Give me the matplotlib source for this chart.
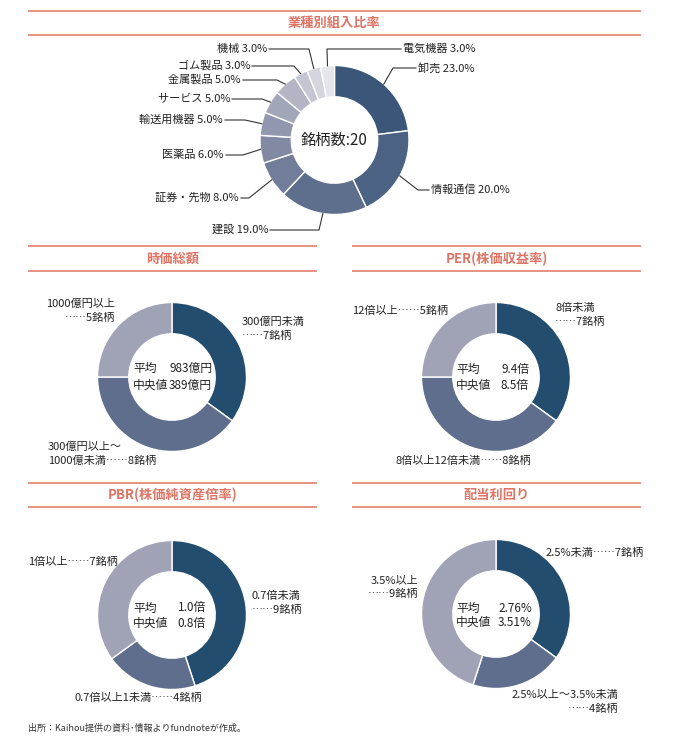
import numpy as np
import matplotlib
matplotlib.use("Agg")
import matplotlib.pyplot as plt

plt.rcParams['font.family'] = ['Noto Sans CJK JP', 'DejaVu Sans']

W, H = 673, 742

# ---------------- data ----------------
sectors = ['卸売', '情報通信', '建設', '証券・先物', '医薬品', '輸送用機器',
           'サービス', '金属製品', 'ゴム製品', '機械', '電気機器']
sector_pct = [23.0, 20.0, 19.0, 8.0, 6.0, 5.0, 5.0, 5.0, 3.0, 3.0, 3.0]
n_stocks = 20

mcap_labels = [['300億円未満', '……7銘柄'], ['300億円以上～', '1000億未満……8銘柄'], ['1000億円以上', '……5銘柄']]
mcap_counts = [7, 8, 5]
mcap_stats = ['983億円', '389億円']

per_labels = [['8倍未満', '……7銘柄'], ['8倍以上12倍未満……8銘柄'], ['12倍以上……5銘柄']]
per_counts = [7, 8, 5]
per_stats = ['9.4倍', '8.5倍']

pbr_labels = [['0.7倍未満', '……9銘柄'], ['0.7倍以上1未満……4銘柄'], ['1倍以上……7銘柄']]
pbr_counts = [9, 4, 7]
pbr_stats = ['1.0倍', '0.8倍']

div_labels = [['2.5%未満……7銘柄'], ['2.5%以上～3.5%未満', '……4銘柄'], ['3.5%以上', '……9銘柄']]
div_counts = [7, 4, 9]
div_stats = ['2.76%', '3.51%']

stat_names = ['平均', '中央値']

# ---------------- style ----------------
top_colors = ['#3A5779', '#4B6283', '#5E6E8D', '#717D99', '#8189A3', '#9197AE',
              '#A2A6B9', '#B3B5C5', '#C4C6D2', '#D4D5DF', '#E5E5EC']
three_colors = ['#234D6F', '#5F6E8C', '#A0A3B6']
accent = '#E5897B'
title_col = '#DE7565'
txt_col = '#222222'
FS = 8

fig = plt.figure(figsize=(W / 100, H / 100), dpi=100)
ax = fig.add_axes([0, 0, 1, 1])


def Y(y):
    return H - y


def text(x, y, s, **kw):
    kw.setdefault('fontsize', FS)
    kw.setdefault('color', txt_col)
    kw.setdefault('va', 'center')
    ax.text(x, Y(y), s, **kw)


def header(x0, x1, y_top, y_bot, title):
    for yy in (y_top, y_bot):
        ax.plot([x0, x1], [Y(yy), Y(yy)], color=accent, lw=1.3, solid_capstyle='butt')
    text((x0 + x1) / 2, (y_top + y_bot) / 2, title, ha='center', fontsize=9.5,
         color=title_col, fontweight='bold')


def donut(values, colors, cx, cy, R, ratio=0.42):
    wedges, _ = ax.pie(values, colors=colors, startangle=90, counterclock=False,
                       radius=R, center=(cx, Y(cy)),
                       wedgeprops=dict(width=R * ratio, edgecolor='white', linewidth=1.0))
    return wedges


# ---------------- top: sector breakdown ----------------
header(28, 641, 11, 35, '業種別組入比率')
tcx, tcy, tR = 334.5, 140, 74.5
donut(sector_pct, top_colors, tcx, tcy, tR)
text(tcx, tcy, f'銘柄数:{n_stocks}', ha='center', fontsize=11)

# leader layout: (elbow_x, elbow_y, text_x, side)
leaders = [(393, 68, 418, 'R'), (418, 190, 431, 'R'), (319, 230, 268, 'L'),
           (249, 198, 239, 'L'), (243, 155, 224, 'L'), (245, 120, 223, 'L'),
           (262, 99, 230, 'L'), (277, 80, 241, 'L'), (294, 66, 250, 'L'),
           (309, 49, 267, 'L'), (327, 49, 403, 'R')]
cum = np.cumsum([0] + sector_pct) / sum(sector_pct) * 360.0
for i, (name, pct) in enumerate(zip(sectors, sector_pct)):
    mid = np.deg2rad((cum[i] + cum[i + 1]) / 2)
    axp = tcx + tR * np.sin(mid)
    ayp = Y(tcy) + tR * np.cos(mid)
    ex, ey, tx, side = leaders[i]
    endx = tx - 2 if side == 'R' else tx + 2
    ax.plot([axp, ex, endx], [ayp, Y(ey), Y(ey)], color='#333333', lw=0.8)
    text(tx, ey, f'{name} {pct:.1f}%', ha='left' if side == 'R' else 'right')

# ---------------- small panels ----------------
panels = [
    dict(title='時価総額', x0=28, x1=317, yt=246, yb=271, cx=172, cy=377,
         counts=mcap_counts, labels=mcap_labels, stats=mcap_stats,
         lpos=[(242, 322, 'left'), (48, 447, 'left'), (115, 304, 'right')],
         sx0=133, sx1=212, sy=(368, 385)),
    dict(title='PER(株価収益率)', x0=352, x1=641, yt=246, yb=271, cx=496, cy=377,
         counts=per_counts, labels=per_labels, stats=per_stats,
         lpos=[(555, 308, 'left'), (463, 461, 'center'), (352, 311, 'left')],
         sx0=456, sx1=529, sy=(369, 385)),
    dict(title='PBR(株価純資産倍率)', x0=28, x1=317, yt=483, yb=507, cx=172, cy=615,
         counts=pbr_counts, labels=pbr_labels, stats=pbr_stats,
         lpos=[(252, 596, 'left'), (138, 698, 'center'), (28, 562, 'left')],
         sx0=133, sx1=206, sy=(608, 623)),
    dict(title='配当利回り', x0=352, x1=641, yt=483, yb=507, cx=496, cy=614,
         counts=div_counts, labels=div_labels, stats=div_stats,
         lpos=[(546, 553, 'left'), (618, 695, 'right'), (418, 580, 'right')],
         sx0=456, sx1=532, sy=(608, 622)),
]

for p in panels:
    header(p['x0'], p['x1'], p['yt'], p['yb'], p['title'])
    donut(p['counts'], three_colors, p['cx'], p['cy'], 74.5)
    for lines, (lx, ly, ha) in zip(p['labels'], p['lpos']):
        for k, line in enumerate(lines):
            text(lx, ly + 13.5 * k, line, ha=ha)
    for k, (nm, val) in enumerate(zip(stat_names, p['stats'])):
        text(p['sx0'], p['sy'][k], nm, ha='left', fontsize=8.5)
        text(p['sx1'], p['sy'][k], val, ha='right', fontsize=8.5)

text(28, 728, '出所：Kaihou提供の資料･情報よりfundnoteが作成。', ha='left', fontsize=6.5, color='#333333')

ax.set_xlim(0, W)
ax.set_ylim(0, H)
ax.set_aspect('equal')
ax.axis('off')
fig.savefig('out.png', dpi=100, facecolor='white')
